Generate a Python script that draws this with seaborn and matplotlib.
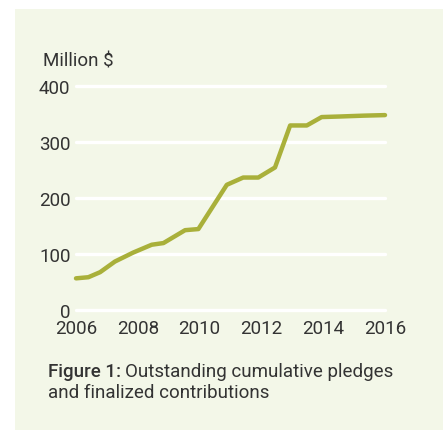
"""
Outstanding cumulative pledges and finalized contributions, 2006-2016.
"""

import matplotlib
matplotlib.use("Agg")
import matplotlib.pyplot as plt
import matplotlib.patches as mpatches
import pandas as pd
import seaborn as sns


# =============================================================================
# Data
# =============================================================================

years = [
    2006.0, 2006.4, 2006.78, 2007.26, 2007.85, 2008.45, 2008.83,
    2009.53, 2009.96, 2010.88, 2011.41, 2011.9, 2012.44, 2012.93,
    2013.47, 2013.95, 2014.54, 2015.3, 2016.0,
]
million_usd = [
    56, 58, 67, 86, 102, 116, 119,
    142, 144, 223, 236, 236, 254, 329,
    329, 344, 345, 346.5, 347.5,
]

x_ticks = [2006, 2008, 2010, 2012, 2014, 2016]
y_ticks = [0, 100, 200, 300, 400]

df = pd.DataFrame({"year": years, "value": million_usd})


# =============================================================================
# Style
# =============================================================================

PANEL = "#f3f7e8"
LINE = "#a9b03a"
TEXT = "#333333"
FS = 13.5

sns.set_style("white")
plt.rcParams["font.family"] = ["Roboto", "DejaVu Sans"]

W, H = 443, 431
fig = plt.figure(figsize=(W / 100, H / 100), dpi=100)
fig.patch.set_facecolor("white")

# light green panel behind everything
fig.patches.append(
    mpatches.Rectangle(
        (15 / W, 0), 1 - 15 / W, 1 - 10 / H,
        transform=fig.transFigure, facecolor=PANEL,
        edgecolor="none", zorder=-5,
    )
)

ax = fig.add_axes([
    76 / W,
    1 - 310.7 / H,
    (385 - 76) / W,
    (310.7 - 86.7) / H,
])
ax.set_zorder(2)
ax.set_facecolor(PANEL)
ax.set_axisbelow(True)

sns.lineplot(
    data=df, x="year", y="value", ax=ax,
    color=LINE, linewidth=3.2, zorder=3,
)
for line in ax.lines:
    line.set_clip_on(False)

ax.set_xlim(2006, 2016)
ax.set_ylim(0, 400)
ax.set_xticks(x_ticks)
ax.set_yticks(y_ticks)
ax.set_xticklabels([str(t) for t in x_ticks])
ax.set_yticklabels([str(t) for t in y_ticks])
ax.grid(axis="y", color="white", linewidth=2.4, clip_on=False)
ax.grid(axis="x", visible=False)
ax.tick_params(axis="both", length=0, labelsize=FS, colors=TEXT)
ax.tick_params(axis="y", pad=4)
ax.tick_params(axis="x", pad=7)
ax.set_xlabel("")
ax.set_ylabel("")
sns.despine(ax=ax, left=True, bottom=True)

fig.text(43 / W, 1 - 66 / H, "Million $", fontsize=FS, color=TEXT,
         ha="left", va="baseline")

# caption: bold prefix followed by regular text
fig.canvas.draw()
renderer = fig.canvas.get_renderer()
cap_x = 47.5 / W
cap_y1 = 1 - 377 / H
cap_y2 = 1 - 398 / H
bold = fig.text(cap_x, cap_y1, "Figure 1:", fontsize=FS, fontweight="medium",
                color=TEXT, ha="left", va="baseline")
bb = bold.get_window_extent(renderer=renderer)
fig.text(bb.x1 / W + 4 / W, cap_y1, "Outstanding cumulative pledges",
         fontsize=FS, color=TEXT, ha="left", va="baseline")
fig.text(cap_x, cap_y2, "and finalized contributions",
         fontsize=FS, color=TEXT, ha="left", va="baseline")

plt.savefig("out.png", dpi=100)
